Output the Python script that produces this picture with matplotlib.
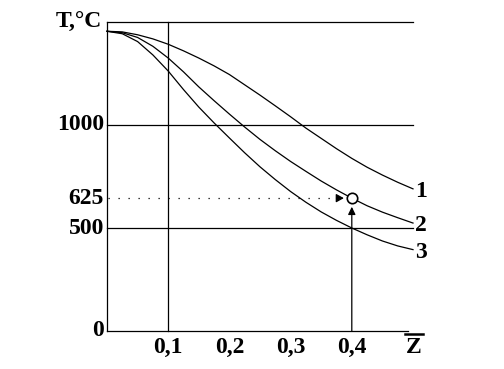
import matplotlib
matplotlib.use("Agg")
import matplotlib.pyplot as plt

# ---- data ----
z = [0.0, 0.025, 0.05, 0.075, 0.1, 0.125, 0.15, 0.175, 0.2, 0.225, 0.25,
     0.275, 0.3, 0.325, 0.35, 0.375, 0.4, 0.425, 0.45, 0.475, 0.5]
curve1 = [1455, 1452, 1438, 1418, 1392, 1360, 1325, 1287, 1245, 1195, 1145,
          1093, 1040, 985, 935, 885, 838, 795, 757, 722, 690]
curve2 = [1455, 1448, 1425, 1382, 1325, 1258, 1185, 1118, 1053, 990, 930,
          875, 823, 775, 728, 685, 645, 608, 577, 550, 524]
curve3 = [1455, 1443, 1405, 1340, 1262, 1172, 1087, 1010, 937, 865, 797,
          735, 677, 625, 578, 537, 500, 467, 437, 413, 395]
curve_labels = ["1", "2", "3"]

grid_T = [500, 1000, 1500]
ytick_vals = [0, 500, 645, 1000]
ytick_text = ["0", "500", "625", "1000"]
xtick_vals = [0.1, 0.2, 0.3, 0.4]
xtick_text = ["0,1", "0,2", "0,3", "0,4"]
point_z, point_T = 0.4, 645
xmax, ymax = 0.5, 1500

fig = plt.figure(figsize=(5.04, 3.69), dpi=100)
ax = fig.add_axes([107/504, 38/369, 306/504, 309/369])
ax.set_xlim(0, xmax)
ax.set_ylim(0, ymax)
ax.axis("off")

font = dict(family="Liberation Serif", fontweight="bold", fontsize=17, color="black")
lw = 0.9

# axes
ax.plot([0, 0], [0, ymax], color="black", lw=lw, clip_on=False)
ax.plot([0, xmax * 0.985], [0, 0], color="black", lw=lw, clip_on=False)
# grid lines
for t in grid_T:
    ax.plot([0, xmax], [t, t], color="black", lw=lw, clip_on=False)
ax.plot([0.1, 0.1], [0, ymax], color="black", lw=lw, clip_on=False)

# curves
for c in (curve1, curve2, curve3):
    ax.plot(z, c, color="black", lw=lw, clip_on=False)

# curve labels
for lab, c in zip(curve_labels, (curve1, curve2, curve3)):
    ax.text(xmax + 0.004, c[-1] - 12, lab, ha="left", va="center", **font)

# dotted line to point
ax.plot([0.002, point_z - 0.02], [point_T, point_T], color="black", lw=0.9,
        linestyle=(0, (1, 7)), clip_on=False)
ax.annotate("", xy=(point_z - 0.013, point_T), xytext=(point_z - 0.025, point_T),
            arrowprops=dict(arrowstyle="-|>,head_length=0.45,head_width=0.25",
                            color="black", lw=0.9, shrinkA=0, shrinkB=0))
# vertical arrow
ax.annotate("", xy=(point_z, point_T - 42), xytext=(point_z, 0),
            arrowprops=dict(arrowstyle="-|>,head_length=0.45,head_width=0.22",
                            color="black", lw=0.9, shrinkA=0, shrinkB=0))
# circle marker
ax.plot([point_z], [point_T], marker="o", markersize=7.5, markerfacecolor="white",
        markeredgecolor="black", markeredgewidth=1.2, clip_on=False)

# y tick labels
for v, t in zip(ytick_vals, ytick_text):
    ax.text(-0.005, v, t, ha="right", va="center", **font)
ax.text(-0.008, ymax, "T,\u00b0C", ha="right", va="center", **font)

# x tick labels
for v, t in zip(xtick_vals, xtick_text):
    ax.text(v, -78, t, ha="center", va="center", **font)
ax.text(0.502, -78, "Z", ha="center", va="center", **font)
ax.plot([0.487, 0.517], [-14, -14], color="black", lw=1.8, clip_on=False)

fig.savefig("out.png", dpi=100)
